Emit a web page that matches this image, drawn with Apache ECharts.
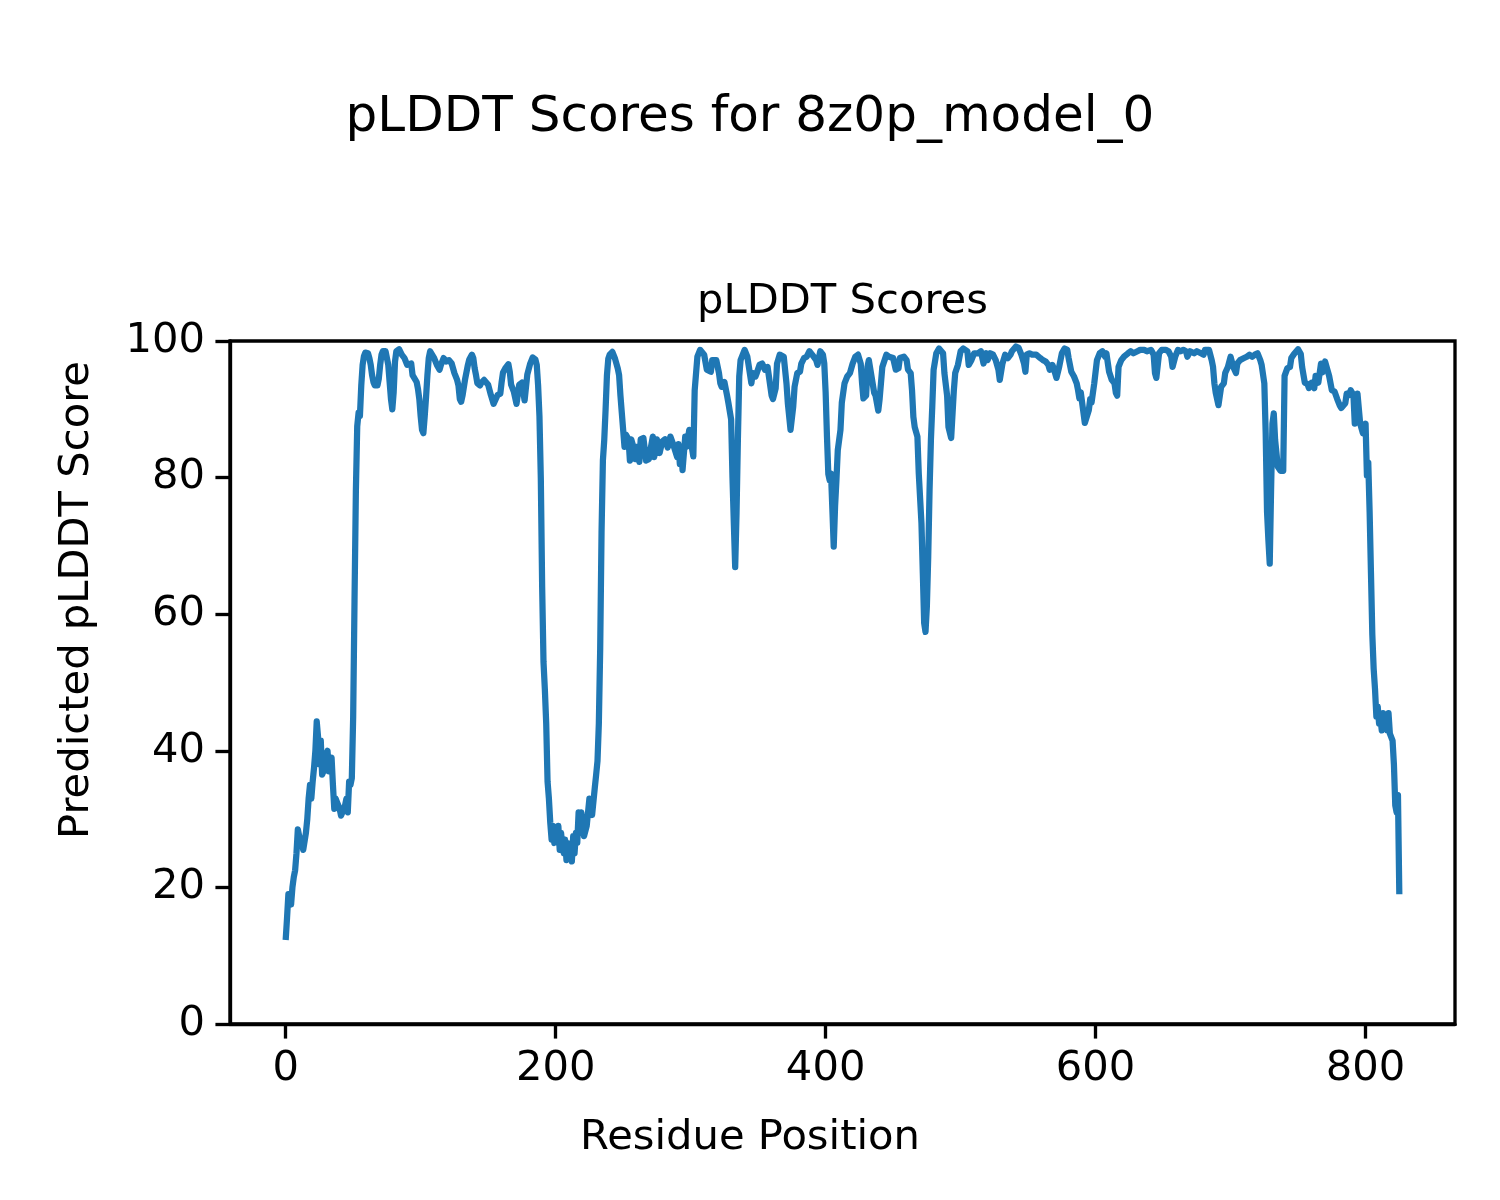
<!DOCTYPE html>
<html>
<head>
<meta charset="utf-8">
<script src="https://cdn.jsdelivr.net/npm/echarts@6/dist/echarts.min.js"></script>
<style>
  html, body { margin: 0; padding: 0; background: #ffffff; }
  #chart { width: 1500px; height: 1200px; }
</style>
</head>
<body>
<div id="chart"></div>
<script>
const figureTitle = 'pLDDT Scores for 8z0p_model_0';
const axesTitle = 'pLDDT Scores';
const xLabel = 'Residue Position';
const yLabel = 'Predicted pLDDT Score';
const xTicks = [0, 200, 400, 600, 800];
const yTicks = [0, 20, 40, 60, 80, 100];

const residues = [
  0,1,2,3,4,5,6,7,8,9,10,11,12,13,14,15,16,17,18,19,
  20,21,22,23,24,25,26,27,28,29,30,31,32,33,34,35,36,37,38,39,
  40,41,42,43,44,45,46,47,48,49,50,51,52,53,54,55,56,57,58,59,
  60,61,62,63,64,65,66,67,68,69,70,71,72,73,74,75,76,77,78,79,
  80,81,82,84,86,88,90,91,93,94,95,97,98,99,100,101,102,103,104,105,
  106,107,108,110,112,114,115,117,119,121,123,125,127,128,129,130,131,133,135,136,
  138,139,140,141,142,144,145,147,150,152,154,157,159,160,161,163,165,166,167,169,
  171,173,175,177,179,181,183,185,186,187,188,189,190,191,192,193,194,195,196,197,
  198,199,200,201,202,203,204,205,206,207,208,209,210,211,212,213,214,215,216,217,
  218,219,221,223,225,227,229,230,231,232,233,234,235,236,237,238,239,240,242,244,
  246,247,248,249,250,251,252,254,255,256,258,259,260,262,263,265,267,269,271,272,
  273,275,277,279,281,283,285,287,288,290,291,292,293,294,296,297,299,300,302,303,
  305,307,310,312,315,316,319,321,322,323,325,327,328,330,331,332,333,334,335,336,
  337,340,342,345,346,348,349,351,353,355,357,358,360,361,363,364,366,367,369,371,
  372,374,376,377,379,381,382,384,386,388,390,393,394,396,398,399,400,401,402,403,
  404,405,406,407,408,409,411,412,414,416,418,420,422,424,426,427,428,430,431,432,
  434,436,437,439,440,442,445,447,450,452,454,455,458,460,461,463,464,465,466,468,
  469,471,472,473,474,475,476,477,478,479,480,482,484,487,488,490,491,493,495,496,
  498,500,502,505,506,508,510,513,515,517,519,520,522,524,526,528,529,531,533,535,
  537,538,541,543,545,547,548,549,551,553,554,556,557,559,561,563,565,566,568,569,
  571,573,575,577,579,580,582,584,586,587,588,589,590,591,592,593,595,596,597,599,
  601,603,605,607,608,610,612,614,615,616,617,619,621,624,626,628,631,633,636,638,
  641,643,644,645,647,649,652,654,656,657,659,661,663,665,667,668,670,673,675,678,
  680,681,684,686,687,688,689,691,693,695,696,698,700,702,704,705,707,710,712,714,
  716,718,720,722,723,725,726,727,728,729,730,731,732,733,735,737,739,740,742,744,
  745,747,750,752,753,755,757,758,760,762,763,765,767,768,770,771,773,775,777,779,
  781,782,785,786,788,789,791,792,794,795,796,798,800,801,802,803,804,805,806,807,
  808,809,810,811,812,813,814,815,816,817,818,819,820,821,822,823,824,825
];

const scores = [
  12.3,15.5,19,18.5,17.5,20,21.5,22.5,25,28.5,27.5,27,26.5,25.5,25.5,28,30,33,35,33,
  35.5,37.5,40,44.3,42,38,41.5,36.5,37,38,39.5,40,37,38.5,39,35,31.5,33,32.5,32,
  31.5,30.5,31,31,32,33,31,35.5,35,36,45,62,78,87.5,89.5,89,93.5,96.5,97.8,98.3,
  98.3,98.2,97.5,96.5,95,94,93.5,93.3,93.5,94.5,96.5,98,98.5,98.7,98.5,97.5,96.5,94,91.5,90,
  92.5,97,98.5,98.8,98,97.5,96.5,96.5,96.7,95,94.8,94,93,91.5,89,87,86.5,89,91.8,95,
  97.5,98.5,98.7,97.5,96.5,95.8,96.5,97.5,97,97.2,96.7,95.3,94.3,93.5,91.5,91.1,92,94.5,96.5,97.3,
  98,97.5,96,95,93.8,93.5,93.9,94.3,93.6,92.1,90.8,92.1,92.3,94,95.4,96.1,96.6,95.5,93.6,92.6,
  90.8,93.6,93.9,91.3,95.1,96.6,97.6,97.3,96.5,93.5,89,80,64,53,49,44,35.5,33,29.5,27,
  29,26.5,28.5,27,29,25.5,28,26,25,27,24,26.5,24.5,26,23.8,27.5,25,28,26.5,31,
  28,31,27.5,29,33,30.6,34.6,36.5,38.5,44,55,72,82.5,85.5,90,95,97.4,98,98.4,97.4,
  96,95,92,89.5,87,84.5,86.3,85.6,82.5,85.6,84.2,82.7,84.5,82.3,85.6,85.8,82.5,82.7,84.9,86,
  83,85.6,83.6,85.3,85.6,84.4,86,84.9,84.9,83,84.9,82,84.5,81.1,86,84.5,87,85.5,83.1,92.8,
  97.7,98.7,98,95.8,95.5,97.2,97.2,95.3,93.8,93.3,94,92,90.9,88.5,80,73.3,66.9,74.8,85.5,94.8,
  97.2,98.7,97.7,93.8,95.3,94.8,95.3,96.5,96.7,95.8,96.2,94.8,92,91.5,93.1,96.7,98,98.2,97.7,93.8,
  90.9,87,90.4,93.3,95.3,95.5,96.7,97.5,97.7,98.5,98,97.2,96.5,98.5,98,96.7,92.5,86,80.5,79.6,
  80.6,75.3,69.9,75.8,79.6,84,87,91,93.8,94.8,95.3,96.7,97.7,98,96.7,93.8,91.6,92,96.2,97.2,
  94.8,92.4,92,89.8,91.5,96.2,98,97.7,97.5,95.8,96,97.5,97.7,97.2,95.8,95.3,92.8,88.9,87.4,86,
  80.6,73.3,66,58.7,57.4,61.1,68.4,78.2,85.5,90.4,95.8,98.2,98.9,98.2,95.3,92,87.4,85.8,92.8,95.3,
  96.5,98.5,98.9,98.5,96.5,97.2,98.2,98.2,98.5,96.7,98.2,97.2,98.2,98,97.2,95.8,94.3,96.7,98,97.5,
  98,98.5,99.2,99,98,96.7,95.5,98,98.2,98,98.2,98,98,97.5,97.2,97,96.5,95.8,96.5,96,
  94.6,96.2,98.2,98.9,98.7,97.5,95.5,94.8,93.8,92.8,91.6,92.5,91,89.5,88,88.2,89.9,91.5,91,93.8,
  97.2,98.2,98.5,97.7,98.2,95.5,94.3,93.8,92.4,92,96.2,97.2,97.7,98.2,98.5,98.2,98.5,98.7,98.7,98.5,
  98.7,98,95.3,94.6,98.2,98.7,98.7,98.5,97.7,96.2,97.7,98.7,98.5,98.7,98.5,97.7,98.5,98.2,98.5,98.2,
  98,98.7,98.7,97.2,96.2,93.8,92.4,90.6,93.3,93.8,95.3,96.2,97.7,96.2,95.3,96.7,97.2,97.5,97.7,98,
  97.7,98,98.2,97.2,96.5,93.8,86.5,75,70.9,67.4,78.2,87.9,89.4,85.5,81.6,81,81,94.9,96,96.2,
  97.5,98.1,98.8,98.1,96.2,93.9,93.7,93.1,93.9,93.1,94.9,93.9,96.7,95.4,97,97,94.9,92.8,92.6,91.5,
  90.5,90.2,90.9,92.3,92.1,92.8,92.1,87.9,92.3,92.1,87.9,86.5,87.9,80.3,82.2,75,66,57,52,49,
  45,46.5,44,44.8,43,45.5,43.5,44.5,43,45.5,42.5,42.5,41.5,38,32,31,33.5,19
];

const n = Math.min(residues.length, scores.length);
const lineData = [];
for (let i = 0; i < n; i++) lineData.push([residues[i], scores[i]]);

const FONT = 'DejaVu Sans';
const PX = 300 / 72;
const tickFont = 10 * PX;

const chart = echarts.init(document.getElementById('chart'), null, { renderer: 'canvas' });

const xMin = residues[0], xMax = residues[n - 1];
const pad = (xMax - xMin) * 0.05;

chart.setOption({
  backgroundColor: '#ffffff',
  animation: false,
  grid: {
    left: 230, right: 45, top: 341, bottom: 176,
    show: true, borderColor: '#000000', borderWidth: 0.8 * PX, backgroundColor: 'transparent'
  },
  xAxis: {
    type: 'value',
    min: xMin - pad,
    max: xMax + pad,
    splitLine: { show: false },
    axisLine: { show: true, onZero: false, lineStyle: { color: '#000', width: 0.8 * PX } },
    axisTick: { show: true, inside: false, length: 3.5 * PX, lineStyle: { color: '#000', width: 0.8 * PX }, customValues: xTicks },
    axisLabel: { show: true, margin: 24, color: '#000', fontFamily: FONT, fontSize: tickFont, customValues: xTicks, showMinLabel: true, showMaxLabel: true }
  },
  yAxis: {
    type: 'value',
    min: 0, max: 100, interval: 20,
    splitLine: { show: false },
    axisLine: { show: true, onZero: false, lineStyle: { color: '#000', width: 0.8 * PX } },
    axisTick: { show: true, inside: false, length: 3.5 * PX, lineStyle: { color: '#000', width: 0.8 * PX } },
    axisLabel: { show: true, margin: 25, color: '#000', fontFamily: FONT, fontSize: tickFont }
  },
  series: [{
    type: 'line',
    data: lineData,
    showSymbol: false,
    symbol: 'none',
    lineStyle: { color: '#1f77b4', width: 1.5 * PX, join: 'round', cap: 'butt' },
    clip: true
  }],
  graphic: [
    { type: 'text', left: 'center', top: 93, style: { text: figureTitle, font: `${12 * PX}px "${FONT}"`, fill: '#000' }, z: 100 },
    { type: 'text', x: 842.5, y: 302, style: { text: axesTitle, font: `${tickFont}px "${FONT}"`, fill: '#000', textAlign: 'center', textVerticalAlign: 'middle' }, z: 100 },
    { type: 'text', x: 750, y: 1138, style: { text: xLabel, font: `${tickFont}px "${FONT}"`, fill: '#000', textAlign: 'center', textVerticalAlign: 'middle' }, z: 100 },
    { type: 'text', x: 77, y: 600, rotation: Math.PI / 2, style: { text: yLabel, font: `${tickFont}px "${FONT}"`, fill: '#000', textAlign: 'center', textVerticalAlign: 'middle' }, z: 100 }
  ]
});
</script>
</body>
</html>
